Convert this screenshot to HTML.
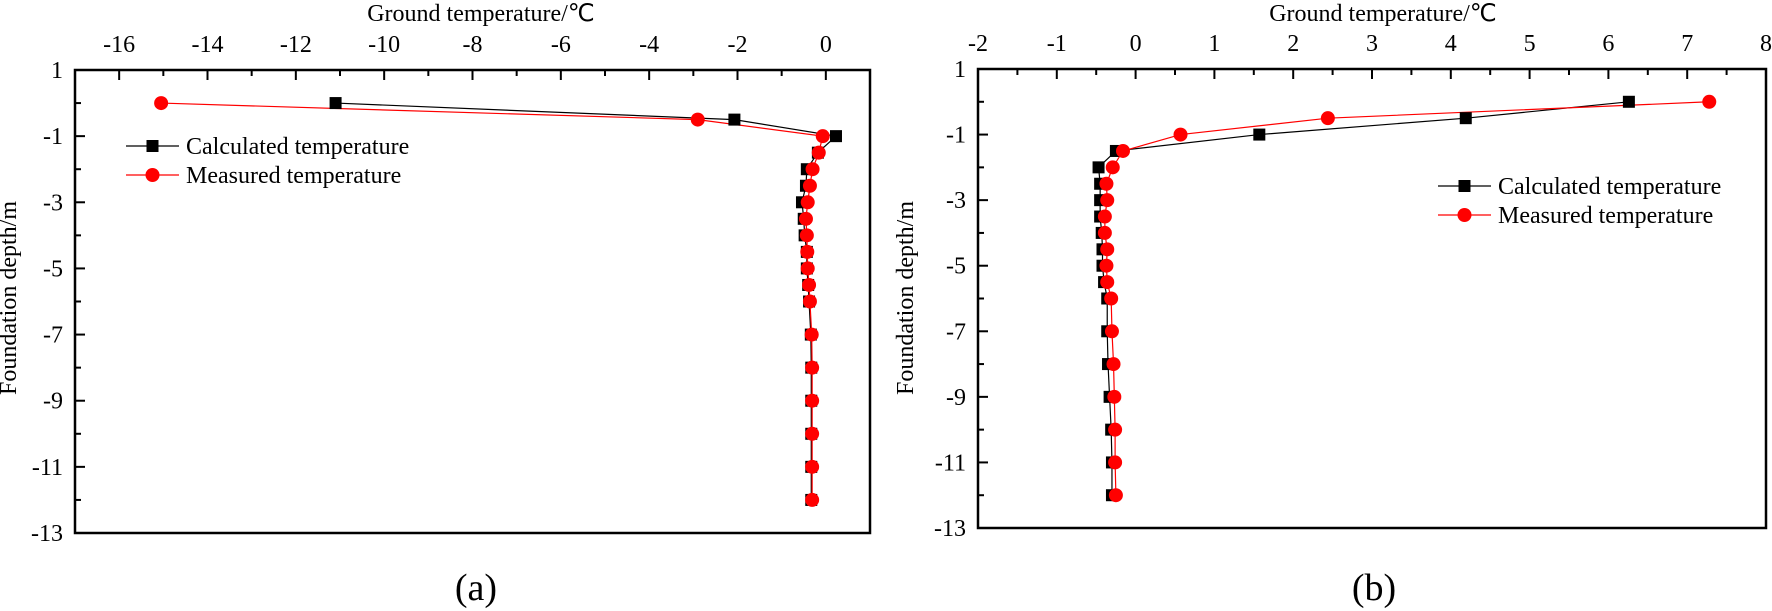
<!DOCTYPE html>
<html><head><meta charset="utf-8"><style>
html,body{margin:0;padding:0;background:#fff;}
svg{display:block;font-family:"Liberation Serif",serif;}
</style></head><body>
<svg id="fig" width="1772" height="611" viewBox="0 0 1772 611" xmlns="http://www.w3.org/2000/svg"></svg>
<script>
const depths = [0,-0.5,-1,-1.5,-2,-2.5,-3,-3.5,-4,-4.5,-5,-5.5,-6,-7,-8,-9,-10,-11,-12];
const calcA = [-11.1,-2.07,0.23,-0.18,-0.43,-0.45,-0.54,-0.5,-0.48,-0.43,-0.43,-0.4,-0.38,-0.34,-0.33,-0.33,-0.33,-0.33,-0.33];
const measA = [-15.05,-2.9,-0.07,-0.16,-0.3,-0.36,-0.41,-0.45,-0.43,-0.42,-0.41,-0.38,-0.36,-0.32,-0.31,-0.31,-0.31,-0.31,-0.31];
const calcB = [6.26,4.19,1.57,-0.25,-0.47,-0.45,-0.45,-0.45,-0.43,-0.42,-0.42,-0.4,-0.36,-0.36,-0.35,-0.33,-0.31,-0.3,-0.3];
const measB = [7.28,2.44,0.57,-0.16,-0.29,-0.37,-0.36,-0.39,-0.39,-0.36,-0.37,-0.36,-0.31,-0.3,-0.28,-0.27,-0.26,-0.26,-0.25];
const xTicksA = [-16,-14,-12,-10,-8,-6,-4,-2,0];
const xTicksB = [-2,-1,0,1,2,3,4,5,6,7,8];
const yTicks = [1,-1,-3,-5,-7,-9,-11,-13];

const NS="http://www.w3.org/2000/svg";
const svg=document.getElementById('fig');
function mk(tag,attrs,parent,text){const e=document.createElementNS(NS,tag);for(const k in attrs)e.setAttribute(k,attrs[k]);if(text!==undefined)e.textContent=text;(parent||svg).appendChild(e);return e;}

function panel(o){
  const g=mk('g',{});
  
  
  const sx=v=>o.L+(v-o.xmin)/(o.xmax-o.xmin)*(o.R-o.L);
  const sy=d=>o.T+(1-d)/14*(o.B-o.T);
  // minor/major ticks x (top, inward)
  for(let v=Math.ceil(o.xmin);v<=o.xmax;v+=o.minorStep){
    const major=o.xticks.includes(v);
    const t=mk('line',{x1:sx(v),x2:sx(v),y1:o.T,y2:o.T+(major?10:6),stroke:'#000','stroke-width':2},g);
    
    
  }
  o.xticks.forEach(v=>{
    const t=mk('text',{x:sx(v),y:o.T-18,'font-size':24,'text-anchor':'middle'},g,String(v));
    
    
  });
  for(let d=1;d>=-13;d-=1){
    const major=yTicks.includes(d);
    const t=mk('line',{x1:o.L,x2:o.L+(major?10:6),y1:sy(d),y2:sy(d),stroke:'#000','stroke-width':2},g);
    
    
  }
  yTicks.forEach(d=>{
    const t=mk('text',{x:o.L-12,y:sy(d)+8,'font-size':24,'text-anchor':'end'},g,String(d));
    
    
  });
  const box=mk('rect',{x:o.L,y:o.T,width:o.R-o.L,height:o.B-o.T,fill:'none',stroke:'#000','stroke-width':2.5},g);
  
  
  const xt=mk('text',{x:o.titleX,y:21,'font-size':24,'text-anchor':'middle'},g,'Ground temperature/\u2103');
  
  
  const yt=mk('text',{x:o.ylabX,y:298,'font-size':24,'text-anchor':'middle',transform:`rotate(-90 ${o.ylabX} 298)`},g,'Foundation depth/m');
  
  
  const cap=mk('text',{x:o.capX,y:600,'font-size':38,'text-anchor':'middle'},g,o.cap);
  
  
  // series
  const series=[{v:o.calc,c:'#000',sq:true,n:'calculated'},{v:o.meas,c:'#f00',sq:false,n:'measured'}];
  series.forEach(s=>{
    const pts=depths.map((d,i)=>sx(s.v[i])+','+sy(d)).join(' ');
    const l=mk('polyline',{points:pts,fill:'none',stroke:s.c,'stroke-width':1.2},g);
    
    
  });
  series.forEach(s=>{
    depths.forEach((d,i)=>{
      let m;
      if(s.sq) m=mk('rect',{x:sx(s.v[i])-6,y:sy(d)-6,width:12,height:12,fill:'#000'},g);
      else m=mk('circle',{cx:sx(s.v[i]),cy:sy(d),r:7,fill:'#f00'},g);
      
      
    });
  });
  // legend
  const lg=mk('g',{},g);
  
  
  [['Calculated temperature','#000',true,o.legY],['Measured temperature','#f00',false,o.legY+29]].forEach(e=>{
    const eg=mk('g',{},lg);
    
    
    mk('line',{x1:o.legX,x2:o.legX+53,y1:e[3],y2:e[3],stroke:e[1],'stroke-width':1.2},eg);
    if(e[2]) mk('rect',{x:o.legX+20.5,y:e[3]-6,width:12,height:12,fill:'#000'},eg);
    else mk('circle',{cx:o.legX+26.5,cy:e[3],r:7,fill:'#f00'},eg);
    mk('text',{x:o.legX+60,y:e[3]+8,'font-size':24},eg,e[0]);
  });
}
panel({name:'panel-a',L:75,R:870,T:70,B:533,xmin:-17,xmax:1,minorStep:1,xticks:xTicksA,calc:calcA,meas:measA,titleX:481,ylabX:16,capX:476,cap:'(a)',legX:126,legY:146});
panel({name:'panel-b',L:978,R:1766,T:69,B:528,xmin:-2,xmax:8,minorStep:0.5,xticks:xTicksB,calc:calcB,meas:measB,titleX:1383,ylabX:913,capX:1374,cap:'(b)',legX:1438,legY:186});
</script>
</body></html>
